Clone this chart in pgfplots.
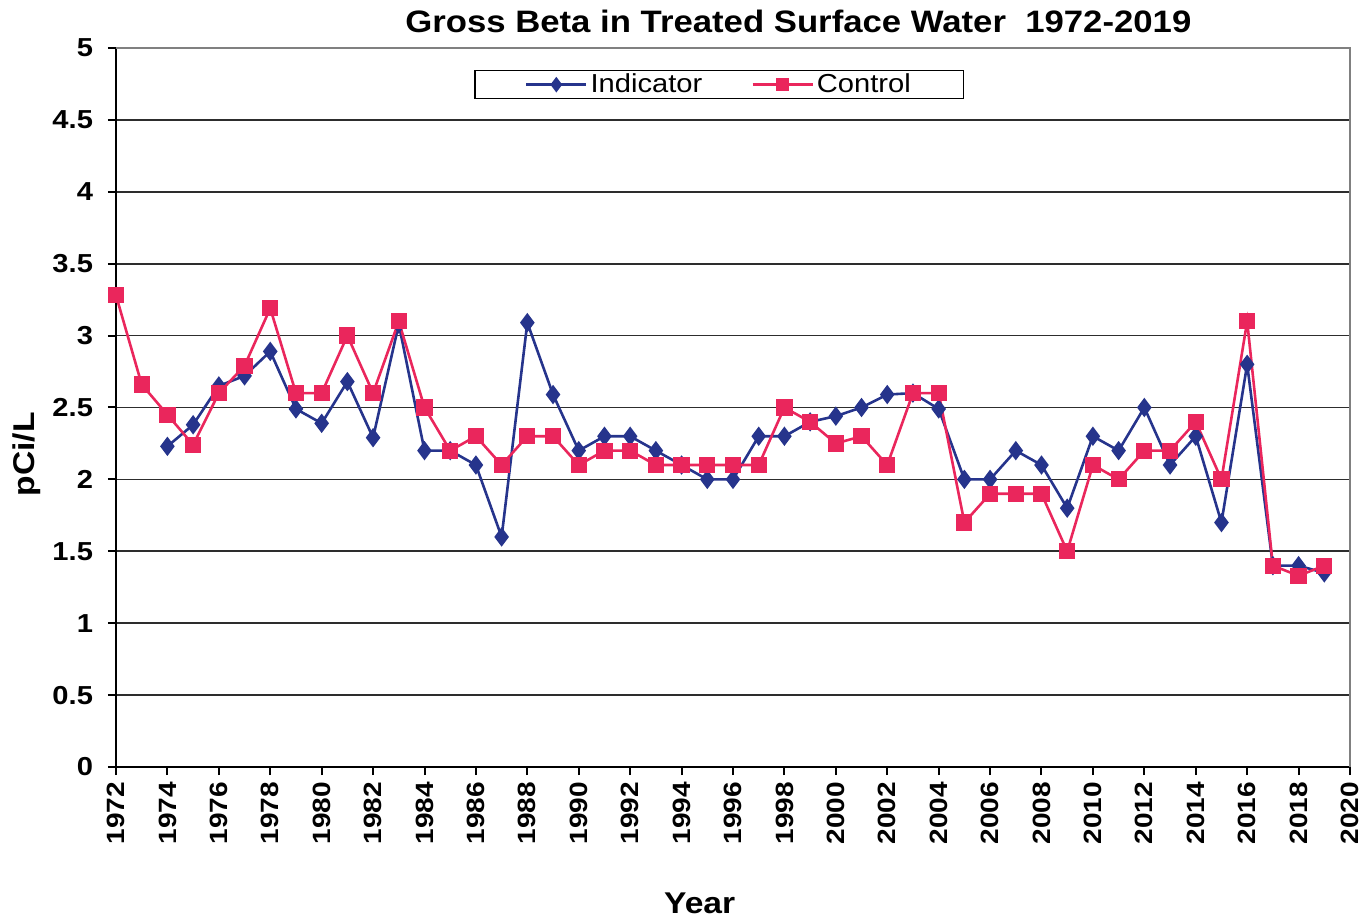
\documentclass[border=0pt]{standalone}
\usepackage{fontspec}
\setmainfont{Liberation Sans}[FakeStretch=1.12]
\usepackage{pgfplots}
\pgfplotsset{compat=1.18}
\definecolor{indblue}{RGB}{38,52,140}
\definecolor{ctlred}{RGB}{234,38,92}
\definecolor{gridc}{RGB}{45,45,45}
\begin{document}
\begin{tikzpicture}
\useasboundingbox (-58bp,-77.5bp) rectangle (628bp,383.5bp);
\begin{axis}[
  at={(0,0)}, anchor=south west,
  scale only axis, width=617bp, height=359.5bp,
  xmin=1972, xmax=2020, ymin=0, ymax=5,
  xtick={1972,1974,...,2020},
  ytick={0,0.5,...,5},
  axis x line*=bottom, axis y line*=left,
  axis line style={black, line width=1bp},
  tick align=outside, major tick length=4bp,
  tick style={black, line width=1bp},
  ymajorgrids, grid style={gridc, line width=0.85bp},
  /pgf/number format/assume math mode=true,
  /pgf/number format/1000 sep={},
  xticklabel style={rotate=90, anchor=east, font=\bfseries\fontsize{12.5bp}{12.5bp}\selectfont},
  yticklabel style={font=\bfseries\fontsize{13bp}{13bp}\selectfont, xshift=-4bp},
  yticklabel={\pgfmathprintnumber{\tick}},
  xlabel={Year},
  xlabel style={at={(rel axis cs:0.473,-0.189)}, anchor=center, font=\bfseries\fontsize{15bp}{15bp}\selectfont},
  ylabel={pCi/L},
  ylabel style={at={(rel axis cs:-0.072,0.435)}, anchor=center, font=\bfseries\fontsize{15bp}{15bp}\selectfont},
  clip=false,
  legend columns=2,
  legend style={at={(rel axis cs:0.489,0.949)}, anchor=center, draw=black, line width=0.6bp,
    font=\fontsize{13bp}{13bp}\selectfont, inner xsep=25bp, inner ysep=0.5bp,
    nodes={inner ysep=1bp, inner xsep=1.5bp},
    /tikz/every even column/.append style={column sep=23bp}},
  legend image code/.code={\draw[mark repeat=2, mark phase=2, mark options={scale=0.75}] plot coordinates {(0bp,0bp) (15bp,0bp) (30bp,0bp)};},
]
\addplot[indblue, line width=1.3bp, mark=diamond*, mark size=3.8bp, mark options={fill=indblue, draw=indblue}]
coordinates {(1974,2.23)(1975,2.38)(1976,2.65)(1977,2.72)(1978,2.89)(1979,2.49)(1980,2.39)(1981,2.68)(1982,2.29)(1983,3.08)(1984,2.2)(1985,2.2)(1986,2.1)(1987,1.6)(1988,3.09)(1989,2.59)(1990,2.2)(1991,2.3)(1992,2.3)(1993,2.2)(1994,2.1)(1995,2.0)(1996,2.0)(1997,2.3)(1998,2.3)(1999,2.4)(2000,2.44)(2001,2.5)(2002,2.59)(2003,2.6)(2004,2.49)(2005,2.0)(2006,2.0)(2007,2.2)(2008,2.1)(2009,1.8)(2010,2.3)(2011,2.2)(2012,2.5)(2013,2.1)(2014,2.3)(2015,1.7)(2016,2.8)(2017,1.4)(2018,1.4)(2019,1.35)};
\addlegendentry{Indicator}
\addplot[ctlred, line width=1.3bp, mark=square*, mark size=3.4bp, mark options={fill=ctlred, draw=ctlred}]
coordinates {(1972,3.28)(1973,2.66)(1974,2.45)(1975,2.24)(1976,2.6)(1977,2.79)(1978,3.19)(1979,2.6)(1980,2.6)(1981,3.0)(1982,2.6)(1983,3.1)(1984,2.5)(1985,2.2)(1986,2.3)(1987,2.1)(1988,2.3)(1989,2.3)(1990,2.1)(1991,2.2)(1992,2.2)(1993,2.1)(1994,2.1)(1995,2.1)(1996,2.1)(1997,2.1)(1998,2.5)(1999,2.4)(2000,2.25)(2001,2.3)(2002,2.1)(2003,2.6)(2004,2.6)(2005,1.7)(2006,1.9)(2007,1.9)(2008,1.9)(2009,1.5)(2010,2.1)(2011,2.0)(2012,2.2)(2013,2.2)(2014,2.4)(2015,2.0)(2016,3.1)(2017,1.4)(2018,1.33)(2019,1.4)};
\addlegendentry{Control}
\draw[gray, line width=1bp] (rel axis cs:0,1) -- (rel axis cs:1,1) -- (rel axis cs:1,0);
\node[anchor=center, font=\bfseries\fontsize{15.5bp}{15.5bp}\selectfont] at (rel axis cs:0.553,1.037) {Gross Beta in Treated Surface Water\ \ 1972-2019};
\end{axis}
\end{tikzpicture}
\end{document}
